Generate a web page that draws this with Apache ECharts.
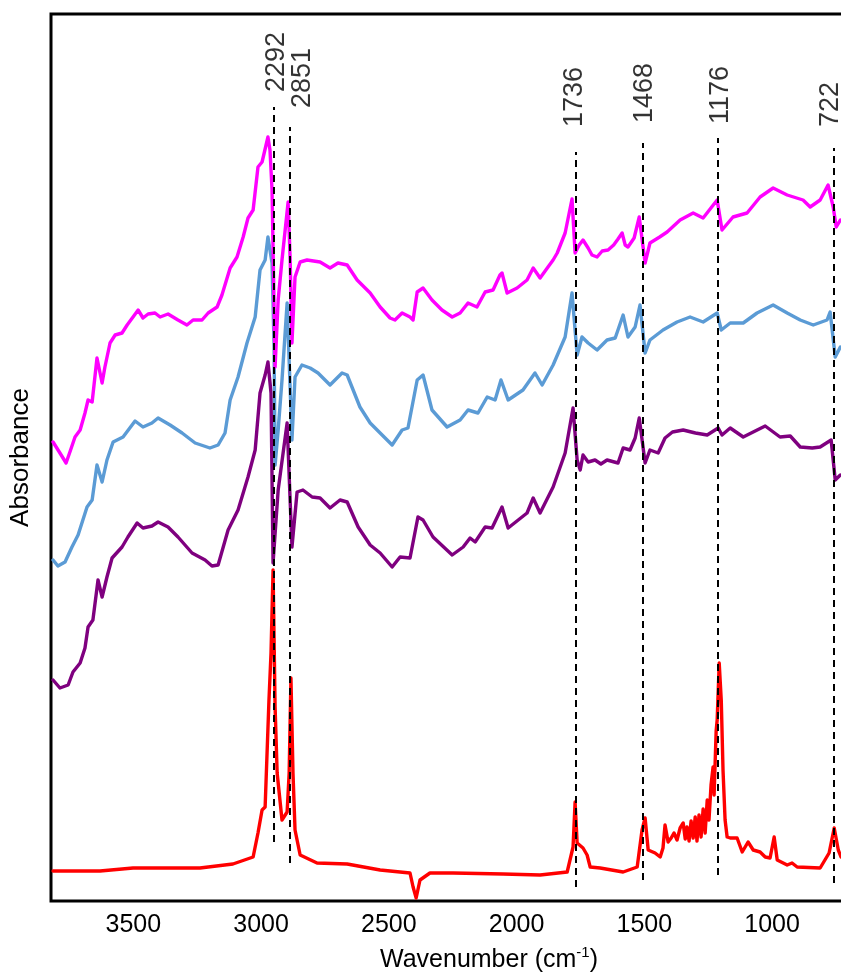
<!DOCTYPE html>
<html><head><meta charset="utf-8">
<script src="https://cdn.jsdelivr.net/npm/echarts@6/dist/echarts.min.js"></script>
<style>html,body{margin:0;padding:0;background:#fff}#chart{width:841px;height:973px}</style>
</head><body><div id="chart"></div>
<script>
// x tick labels (wavenumber, cm-1)
const xTickValues = [1000, 1500, 2000, 2500, 3000, 3500];

// spectra: [wavenumber, absorbance (arbitrary units, offset)]
const magentaSpectrum = [[3814,45.9],[3787,44.8],[3763,43.8],[3748,44.9],[3728,46.4],[3708,47.1],[3689,48.8],[3677,50.1],[3661,49.9],[3642,54.3],[3622,51.8],[3611,53.4],[3591,55.8],[3571,56.6],[3544,56.8],[3524,57.6],[3501,58.4],[3481,59.1],[3462,58.3],[3442,58.7],[3415,58.8],[3395,58.4],[3364,58.7],[3325,58.1],[3290,57.6],[3266,58.1],[3231,58.1],[3207,58.8],[3172,59.4],[3153,60.6],[3121,63.3],[3094,64.4],[3070,66.4],[3051,68.3],[3031,69.1],[3012,73.4],[2996,73.9],[2992,73.8],[2973,76.4],[2965,75.1],[2957,71.1],[2945,53.4],[2933,60.1],[2918,64.1],[2894,69.9],[2886,64.1],[2879,55.8],[2867,62.4],[2847,63.9],[2820,64.1],[2769,63.9],[2730,63.3],[2699,63.8],[2663,63.6],[2624,62.1],[2573,60.8],[2534,59.4],[2495,58.3],[2476,58.1],[2448,58.8],[2417,58.4],[2405,58.1],[2389,60.9],[2366,61.3],[2331,60.1],[2292,59.1],[2252,58.4],[2221,58.8],[2190,59.8],[2155,59.4],[2123,60.9],[2092,61.1],[2065,62.6],[2057,62.8],[2037,60.8],[1998,61.3],[1959,62.1],[1935,63.3],[1908,62.3],[1877,63.4],[1857,64.1],[1841,64.8],[1810,66.8],[1783,70.2],[1771,64.8],[1755,65.6],[1740,66.1],[1720,65.3],[1705,64.6],[1685,64.4],[1665,65.0],[1642,65.1],[1620,65.6],[1603,66.2],[1587,66.8],[1575,65.6],[1564,65.4],[1540,66.3],[1520,68.4],[1497,63.8],[1478,65.8],[1440,66.4],[1411,66.9],[1360,68.1],[1309,68.8],[1270,68.3],[1215,70.1],[1196,67.1],[1153,68.4],[1098,68.8],[1047,70.4],[996,71.3],[941,70.6],[879,70.1],[851,69.4],[812,70.1],[781,71.6],[761,69.4],[749,67.4],[733,68.1]];

const blueSpectrum = [[3814,34.1],[3795,33.5],[3767,33.9],[3740,35.4],[3716,36.6],[3681,39.4],[3661,40.1],[3642,43.6],[3622,41.9],[3603,44.1],[3579,45.9],[3540,46.4],[3493,48.0],[3462,47.4],[3427,47.8],[3403,48.3],[3356,47.6],[3309,46.8],[3258,45.8],[3200,45.3],[3168,45.6],[3141,46.8],[3121,50.1],[3090,52.4],[3055,55.8],[3023,58.4],[3004,63.1],[2984,64.1],[2973,66.4],[2957,63.8],[2949,55.4],[2945,43.6],[2933,47.1],[2918,52.1],[2898,59.8],[2879,46.1],[2867,52.4],[2840,53.6],[2808,53.3],[2777,52.8],[2730,51.6],[2683,52.8],[2663,52.6],[2613,49.4],[2573,47.8],[2534,46.8],[2487,45.6],[2448,47.1],[2425,47.3],[2389,52.1],[2366,52.6],[2331,49.1],[2272,47.4],[2221,48.1],[2190,49.1],[2151,48.8],[2115,50.4],[2084,50.1],[2061,52.1],[2033,50.1],[1975,51.1],[1928,52.8],[1900,51.6],[1857,53.6],[1810,56.4],[1783,60.8],[1763,54.6],[1744,56.4],[1720,55.8],[1685,55.1],[1646,56.1],[1614,56.3],[1583,58.6],[1564,56.4],[1536,57.4],[1517,59.6],[1497,54.8],[1478,56.1],[1427,57.1],[1372,57.9],[1321,58.4],[1270,57.9],[1215,58.8],[1199,57.1],[1164,57.8],[1113,57.8],[1059,58.8],[996,59.6],[941,58.8],[890,58.1],[839,57.6],[785,58.1],[773,58.9],[753,54.4],[733,55.4]];

const purpleSpectrum = [[3814,22.1],[3787,21.3],[3755,21.6],[3736,22.9],[3708,23.8],[3689,25.3],[3677,27.4],[3658,28.1],[3638,32.1],[3622,30.4],[3603,32.4],[3583,34.3],[3544,35.4],[3521,36.4],[3485,37.8],[3462,37.3],[3427,37.5],[3403,37.9],[3364,37.4],[3325,36.4],[3270,34.8],[3219,34.1],[3192,33.5],[3168,33.6],[3129,37.1],[3090,39.1],[3051,42.4],[3023,45.1],[3004,50.8],[2984,52.6],[2973,53.9],[2961,50.8],[2953,33.8],[2933,41.1],[2898,47.8],[2879,35.4],[2859,40.9],[2836,41.1],[2800,40.4],[2769,40.3],[2730,39.3],[2691,40.1],[2663,39.9],[2620,37.4],[2573,35.6],[2534,34.8],[2487,33.4],[2456,34.4],[2417,34.3],[2386,38.4],[2366,38.1],[2327,36.4],[2252,34.6],[2209,35.4],[2182,36.3],[2162,35.9],[2123,37.4],[2096,37.3],[2057,39.4],[2033,37.3],[1959,38.8],[1935,40.3],[1908,38.8],[1857,41.4],[1810,44.8],[1779,49.3],[1763,44.1],[1751,43.1],[1740,44.6],[1720,43.9],[1693,44.1],[1670,43.7],[1646,44.1],[1603,43.8],[1583,45.3],[1556,45.1],[1536,46.3],[1520,48.3],[1497,43.8],[1478,45.1],[1446,44.8],[1419,46.3],[1390,46.9],[1348,47.1],[1300,46.8],[1254,46.6],[1211,47.3],[1196,46.6],[1164,47.3],[1113,46.4],[1074,46.9],[1027,47.5],[969,46.4],[929,46.5],[890,45.4],[843,45.3],[812,45.4],[769,46.1],[753,42.1],[733,42.6]];

const redSpectrum = [[3814,3.0],[3630,3.0],[3501,3.3],[3239,3.3],[3110,3.7],[3031,4.4],[3012,6.8],[2996,9.1],[2984,9.4],[2969,20.1],[2961,24.8],[2953,33.1],[2945,19.4],[2937,12.8],[2918,8.1],[2898,8.9],[2890,12.8],[2883,22.3],[2875,12.8],[2867,7.1],[2847,4.6],[2781,3.8],[2663,3.7],[2534,3.1],[2417,2.8],[2405,1.4],[2393,0.3],[2378,2.1],[2339,2.8],[2249,2.8],[2053,2.7],[1908,2.6],[1802,2.9],[1779,5.4],[1771,9.9],[1763,5.8],[1740,5.3],[1724,4.6],[1712,3.4],[1673,3.3],[1583,2.9],[1528,3.4],[1509,7.1],[1497,8.3],[1485,5.1],[1458,4.8],[1438,4.4],[1427,5.3],[1419,7.6],[1407,5.9],[1395,6.3],[1384,6.8],[1372,6.1],[1360,7.3],[1348,7.8],[1340,6.2],[1333,7.4],[1325,6.0],[1317,8.0],[1309,6.3],[1301,8.4],[1294,6.0],[1286,8.6],[1278,6.4],[1270,9.2],[1262,6.8],[1254,10.1],[1247,8.1],[1239,11.6],[1231,13.4],[1227,10.6],[1219,17.0],[1215,18.1],[1207,23.8],[1199,20.1],[1192,13.0],[1184,8.1],[1176,6.4],[1164,6.3],[1137,6.3],[1117,4.9],[1094,5.9],[1074,5.1],[1047,4.9],[1027,4.4],[1008,4.3],[992,6.4],[980,4.1],[941,3.6],[922,3.8],[902,3.4],[812,3.3],[777,4.8],[757,7.3],[741,5.1],[730,4.4]];

// peak annotations
const peakLabels = ['2292', '2851', '1736', '1468', '1176', '722'];
const peakLineW = [2949, 2886, 1767, 1505, 1211, 757];
const peakLineTop = [79.4, 77.4, 74.9, 75.8, 76.3, 75.3];
const peakLineBottom = [5.9, 3.8, 1.4, 2.1, 2.6, 1.8];
const peakLabelW = [2941, 2836, 1775, 1501, 1200, 773];
const peakLabelBase = [80.9, 79.3, 77.4, 77.8, 77.7, 77.4];

const FONT = "'Liberation Sans', Arial, Helvetica, sans-serif";
const chart = echarts.init(document.getElementById('chart'), null, {renderer: 'canvas'});

function spectrum(name, data, color, z) {
  return {
    name: name, type: 'line', data: data, z: z,
    showSymbol: false, symbol: 'none', silent: true,
    lineStyle: {color: color, width: 3.4, join: 'round', cap: 'round'},
    itemStyle: {color: color}
  };
}

const option = {
  animation: false,
  grid: {left: 51, top: 14, right: -30, bottom: 72, outerBoundsMode: 'none', containLabel: false,
         show: true, borderColor: '#000', borderWidth: 3, backgroundColor: 'transparent'},
  xAxis: {
    type: 'value', inverse: true, min: 613, max: 3822,
    axisLine: {show: false}, axisTick: {show: false}, splitLine: {show: false},
    axisLabel: {customValues: xTickValues, formatter: v => String(v), fontSize: 25, color: '#000', fontFamily: FONT, margin: 12},
    name: 'Wavenumber (cm{sup|-1})', nameLocation: 'middle', nameGap: 44,
    nameTextStyle: {
      fontSize: 25, color: '#000', fontFamily: FONT, lineHeight: 30, padding: [0, 0, 0, 56],
      rich: {sup: {fontSize: 15, fontFamily: FONT, color: '#000', verticalAlign: 'top', lineHeight: 18}}
    }
  },
  yAxis: {
    type: 'value', min: 0, max: 88.7,
    axisLine: {show: false}, axisTick: {show: false}, axisLabel: {show: false}, splitLine: {show: false},
    name: 'Absorbance', nameLocation: 'middle', nameGap: 17,
    nameTextStyle: {fontSize: 26, color: '#000', fontFamily: FONT}
  },
  series: [
    spectrum('Spectrum 4', redSpectrum, '#FF0000', 2),
    spectrum('Spectrum 3', purpleSpectrum, '#7F007F', 2),
    spectrum('Spectrum 2', blueSpectrum, '#5B9BD5', 2),
    spectrum('Spectrum 1', magentaSpectrum, '#FF00FF', 2),
    {
      name: 'peaks', type: 'line', data: [], z: 5, silent: true,
      markLine: {
        silent: true, animation: false, symbol: ['none', 'none'],
        label: {show: false},
        lineStyle: {color: '#000', width: 2, type: [7, 5]},
        data: peakLineW.map((w, i) => [{coord: [w, peakLineBottom[i]]}, {coord: [w, peakLineTop[i]]}])
      }
    },
    {
      name: 'peakLabels', type: 'scatter', z: 6, silent: true,
      symbolSize: 1, itemStyle: {color: 'rgba(0,0,0,0)'},
      data: peakLabels.map((t, i) => ({value: [peakLabelW[i], peakLabelBase[i]], label: {formatter: t}})),
      label: {show: true, position: 'inside', rotate: 90, align: 'left', verticalAlign: 'middle', fontSize: 27, color: '#000', fontFamily: FONT}
    }
  ]
};
chart.setOption(option);
</script>
</body></html>
